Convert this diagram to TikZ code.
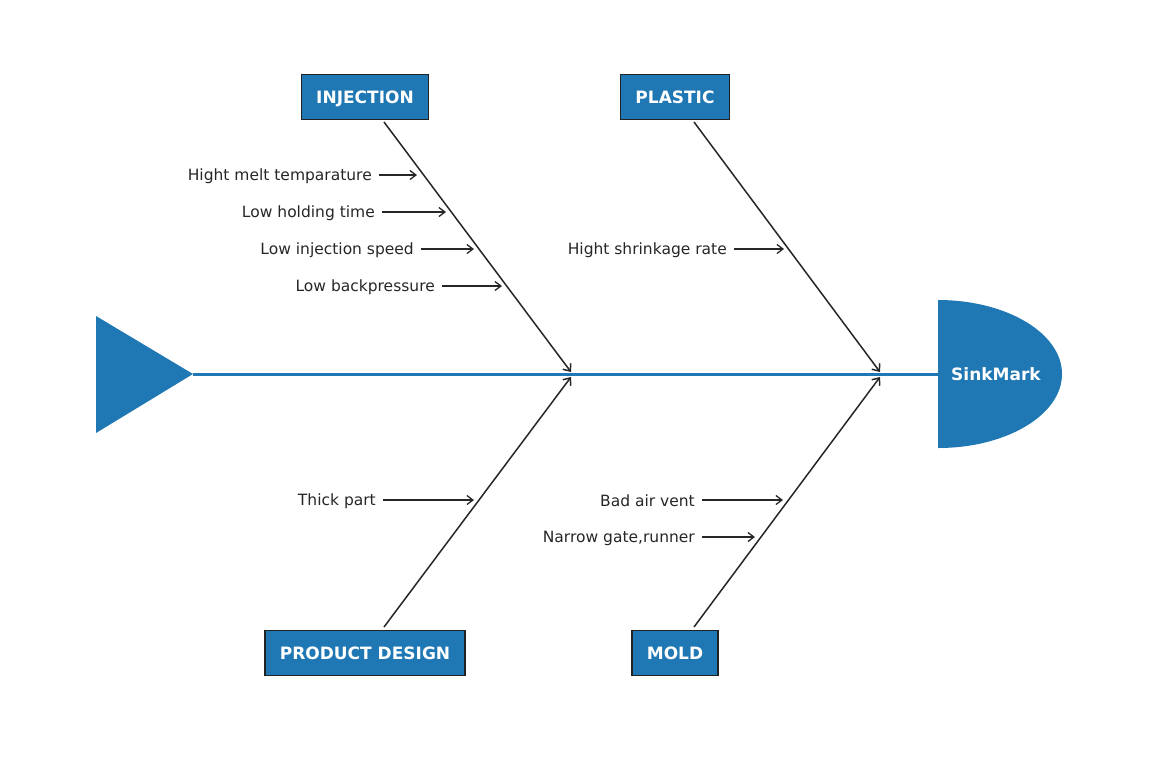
\documentclass[tikz,border=0pt]{standalone}
\usepackage{fontspec}
\setmainfont{DejaVu Sans}
\usetikzlibrary{arrows.meta}
\definecolor{tabblue}{HTML}{1F77B4}
\definecolor{ink}{HTML}{262626}
\begin{document}
\begin{tikzpicture}[x=1pt,y=-1pt,
  cat/.style={draw=ink!90!black, line width=1.4pt, fill=tabblue, text=white,
    font=\bfseries\fontsize{17}{20}\selectfont, minimum height=45pt, inner xsep=15pt, inner ysep=0pt,
    text height=12.4pt, text depth=0pt},
  cause/.style={font=\fontsize{15.5}{18}\selectfont, text=ink, anchor=east, inner sep=0pt, yshift=-1pt},
  bone/.style={draw=ink, line width=1.5pt, -{Straight Barb[length=6pt,width=10pt]}},
  subarrow/.style={draw=ink, line width=1.3pt, -{Straight Barb[length=6pt,width=9pt]}},
  headtext/.style={text=white, font=\bfseries\fontsize{17}{20}\selectfont, text height=12.4pt, text depth=0pt}]
\useasboundingbox (0,0) rectangle (1150,761);
% tail triangle and spine
\coordinate (tip) at (193,374);
\coordinate (hd) at (938,374);
\fill[tabblue] (96,316) -- (tip) -- (96,433) -- cycle;
\draw[tabblue, line width=3pt] (tip) -- (hd);
% head
\fill[tabblue] (938,300) arc[start angle=-90, end angle=90, x radius=124, y radius=74] -- cycle;
\node[headtext] (head) at (996,374) {SinkMark};
% category boxes
\node[cat] (inj) at (365,97) {INJECTION};
\node[cat] (pla) at (675,97) {PLASTIC};
\node[cat] (pd) at (365,653) {PRODUCT DESIGN};
\node[cat] (mold) at (675,653) {MOLD};
% bones
\coordinate (b1s) at (384,122); \coordinate (b1e) at (571,372);
\coordinate (b2s) at (694,122); \coordinate (b2e) at (880,372);
\coordinate (b3s) at (384,627); \coordinate (b3e) at (571,377);
\coordinate (b4s) at (694,627); \coordinate (b4e) at (880,377);
\draw[bone] (b1s) -- (b1e);
\draw[bone] (b2s) -- (b2e);
\draw[bone] (b3s) -- (b3e);
\draw[bone] (b4s) -- (b4e);
% causes
\node[cause] (c1) at (372,175) {Hight melt temparature};
\node[cause] (c2) at (375,212) {Low holding time};
\node[cause] (c3) at (414,249) {Low injection speed};
\node[cause] (c4) at (435,286) {Low backpressure};
\node[cause] (c5) at (727,249) {Hight shrinkage rate};
\node[cause] (c6) at (376,500) {Thick part};
\node[cause] (c7) at (695,500) {Bad air vent};
\node[cause] (c8) at (695,537) {Narrow gate,runner};
\coordinate (t1) at (417,175);
\coordinate (t2) at (446,212);
\coordinate (t3) at (474,249);
\coordinate (t4) at (502,286);
\coordinate (t5) at (784,249);
\coordinate (t6) at (474,500);
\coordinate (t7) at (783,500);
\coordinate (t8) at (755,537);
\foreach \i in {1,...,8}{
  \draw[subarrow] ([xshift=7pt,yshift=1pt]c\i.east) -- (t\i);
}
\end{tikzpicture}
\end{document}
